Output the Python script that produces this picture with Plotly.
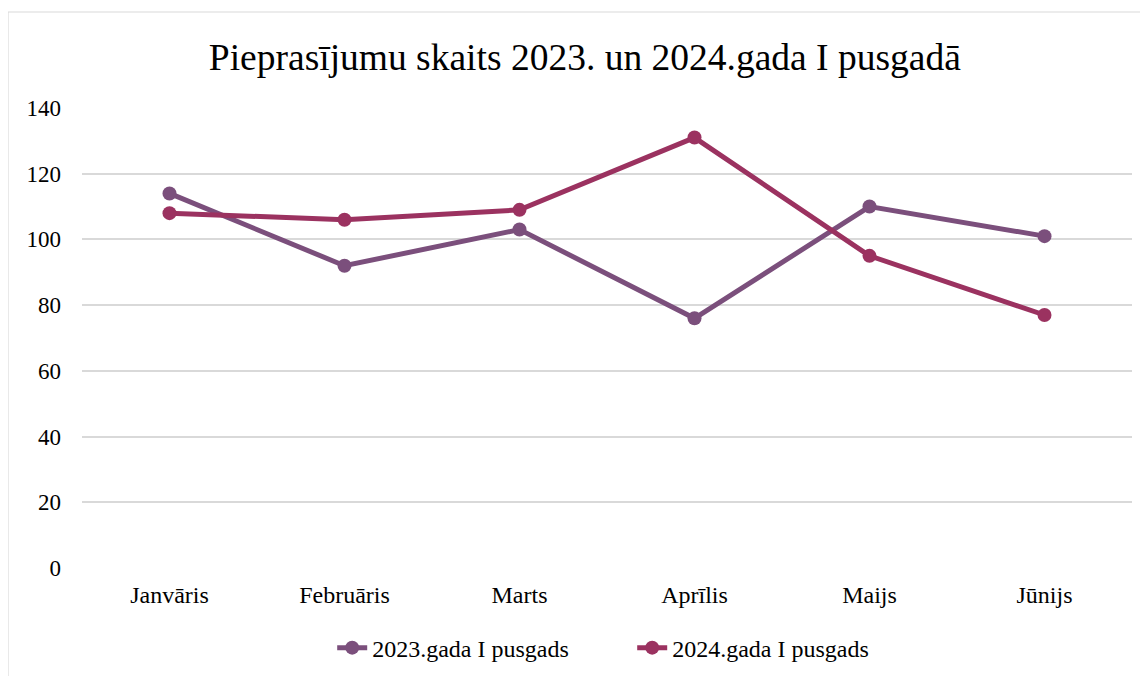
import plotly.graph_objects as go

months = ["Janvāris", "Februāris", "Marts", "Aprīlis", "Maijs", "Jūnijs"]
series_2023_name = "2023.gada I pusgads"
series_2024_name = "2024.gada I pusgads"
values_2023 = [114, 92, 103, 76, 110, 101]
values_2024 = [108, 106, 109, 131, 95, 77]
y_ticks = [0, 20, 40, 60, 80, 100, 120, 140]
title_text = "Pieprasījumu skaits 2023. un 2024.gada I pusgadā"

c2023 = "#7B4F7C"
c2024 = "#9B3260"
font_family = "Liberation Serif, Times New Roman, serif"
border_color = "#d9d9d9"

fig = go.Figure()
fig.add_trace(go.Scatter(x=months, y=values_2023, name=series_2023_name, mode="lines+markers",
                         line=dict(color=c2023, width=5), marker=dict(color=c2023, size=14)))
fig.add_trace(go.Scatter(x=months, y=values_2024, name=series_2024_name, mode="lines+markers",
                         line=dict(color=c2024, width=5), marker=dict(color=c2024, size=14)))

fig.update_layout(
    width=1140, height=668,
    margin=dict(l=74, r=16, t=100, b=108, autoexpand=False),
    paper_bgcolor="white", plot_bgcolor="white",
    font=dict(family=font_family, color="#000000", size=24),
    title=dict(text=title_text, x=0.506, xanchor="center", y=0.927, yanchor="middle",
               font=dict(size=37.5, family=font_family, color="#000000")),
    showlegend=True,
    legend=dict(orientation="h", x=0.524, xanchor="center", y=-0.174, yanchor="middle",
                font=dict(size=24, family=font_family), tracegroupgap=0,
                entrywidth=255, entrywidthmode="pixels"),
    xaxis=dict(range=[-0.5, 5.5], showgrid=False, showline=False, zeroline=False, ticks="",
               tickfont=dict(size=24, family=font_family), ticklabelstandoff=10),
    yaxis=dict(range=[0, 140], tickvals=y_ticks, showgrid=True, gridcolor="#d9d9d9", gridwidth=1.5,
               zeroline=False, showline=False, ticks="",
               tickfont=dict(size=23, family=font_family), ticklabelstandoff=20),
    shapes=[
        dict(type="line", xref="paper", yref="paper", x0=-0.0705, x1=-0.0705, y0=-0.3, y1=1.2087,
             line=dict(color=border_color, width=1.2), layer="below"),
        dict(type="line", xref="paper", yref="paper", x0=-0.0705, x1=1.1, y0=1.2087, y1=1.2087,
             line=dict(color=border_color, width=1.2), layer="below"),
    ],
)

fig.write_html("out.html")
